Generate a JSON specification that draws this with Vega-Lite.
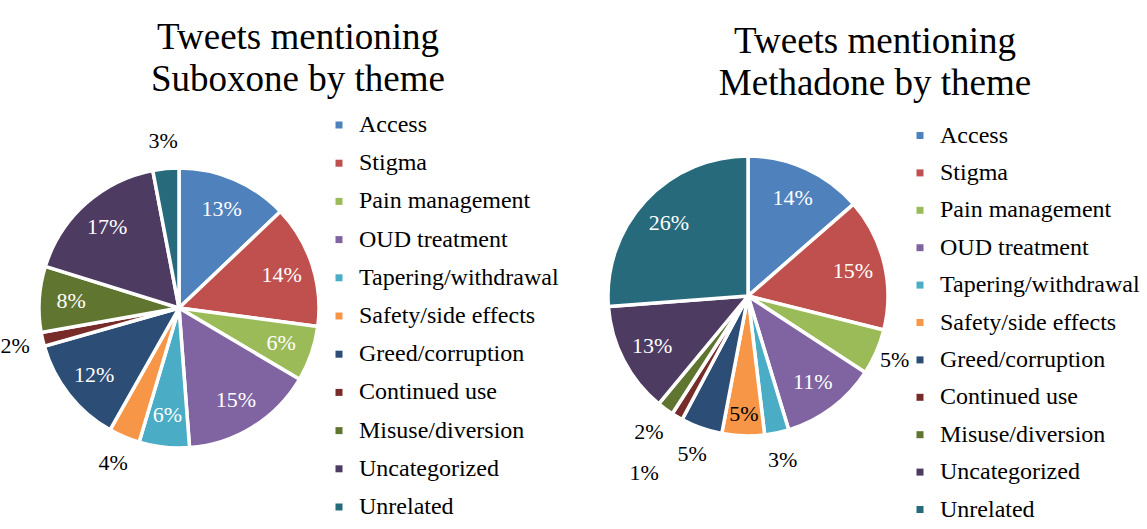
{
  "$schema": "https://vega.github.io/schema/vega-lite/v6.json",
  "background": "white",
  "padding": {"left": 0, "top": 19, "right": 0, "bottom": 0},
  "spacing": 289,
  "bounds": "flush",
  "resolve": {"scale": {"color": "independent"}, "legend": {"color": "independent"}},
  "config": {
    "font": "Liberation Serif",
    "view": {"stroke": null},
    "title": {"font": "Liberation Serif", "fontSize": 37, "fontWeight": "normal", "color": "#000000", "lineHeight": 42, "anchor": "middle", "frame": "group", "baseline": "bottom"},
    "legend": {"labelFont": "Liberation Serif", "labelFontSize": 24, "labelColor": "#000000", "symbolType": "square", "symbolSize": 49, "symbolStrokeWidth": 0, "labelOffset": 8, "labelLimit": 400, "padding": 0}
  },
  "datasets": {
    "suboxone": [
      {"idx": 1, "theme": "Access", "share": 0.129},
      {"idx": 2, "theme": "Stigma", "share": 0.142},
      {"idx": 3, "theme": "Pain management", "share": 0.064},
      {"idx": 4, "theme": "OUD treatment", "share": 0.153},
      {"idx": 5, "theme": "Tapering/withdrawal", "share": 0.058},
      {"idx": 6, "theme": "Safety/side effects", "share": 0.036},
      {"idx": 7, "theme": "Greed/corruption", "share": 0.124},
      {"idx": 8, "theme": "Continued use", "share": 0.016},
      {"idx": 9, "theme": "Misuse/diversion", "share": 0.076},
      {"idx": 10, "theme": "Uncategorized", "share": 0.172},
      {"idx": 11, "theme": "Unrelated", "share": 0.030}
    ],
    "methadone": [
      {"idx": 1, "theme": "Access", "share": 0.136},
      {"idx": 2, "theme": "Stigma", "share": 0.153},
      {"idx": 3, "theme": "Pain management", "share": 0.053},
      {"idx": 4, "theme": "OUD treatment", "share": 0.111},
      {"idx": 5, "theme": "Tapering/withdrawal", "share": 0.028},
      {"idx": 6, "theme": "Safety/side effects", "share": 0.049},
      {"idx": 7, "theme": "Greed/corruption", "share": 0.048},
      {"idx": 8, "theme": "Continued use", "share": 0.013},
      {"idx": 9, "theme": "Misuse/diversion", "share": 0.019},
      {"idx": 10, "theme": "Uncategorized", "share": 0.128},
      {"idx": 11, "theme": "Unrelated", "share": 0.262}
    ]
  },
  "hconcat": [
    {
      "width": 280,
      "height": 304,
      "data": {"name": "suboxone"},
      "title": {"text": ["Tweets mentioning", "Suboxone by theme"], "dx": 119, "offset": 14},
      "encoding": {
        "theta": {"field": "share", "type": "quantitative", "stack": true},
        "order": {"field": "idx", "type": "quantitative"}
      },
      "layer": [
        {
          "mark": {"type": "arc", "outerRadius": 140, "stroke": "white", "strokeWidth": 3.5},
          "encoding": {
            "color": {
              "field": "theme", "type": "nominal",
              "scale": {
                "domain": ["Access", "Stigma", "Pain management", "OUD treatment", "Tapering/withdrawal", "Safety/side effects", "Greed/corruption", "Continued use", "Misuse/diversion", "Uncategorized", "Unrelated"],
                "range": ["#4F81BD", "#C0504D", "#9BBB59", "#8064A2", "#4BACC6", "#F79646", "#2C4D75", "#772C2A", "#5F7530", "#4D3B62", "#276A7C"]
              },
              "legend": {"title": null, "orient": "none", "legendX": 288, "legendY": -43, "rowPadding": 14.2}
            }
          }
        },
        {
          "mark": {"type": "text", "font": "Liberation Serif", "fontSize": 22, "radius": {"expr": "datum.share < 0.05 ? 168 : 108"}},
          "encoding": {
            "text": {"field": "share", "type": "quantitative", "format": ".0%"},
            "color": {"condition": {"test": "datum.share < 0.05", "value": "#000000"}, "value": "#ffffff"}
          }
        }
      ]
    },
    {
      "width": 280,
      "height": 280,
      "data": {"name": "methadone"},
      "title": {"text": ["Tweets mentioning", "Methadone by theme"], "dx": 127, "offset": 20.5},
      "encoding": {
        "theta": {"field": "share", "type": "quantitative", "stack": true},
        "order": {"field": "idx", "type": "quantitative"}
      },
      "layer": [
        {
          "mark": {"type": "arc", "outerRadius": 140, "stroke": "white", "strokeWidth": 3.5},
          "encoding": {
            "color": {
              "field": "theme", "type": "nominal",
              "scale": {
                "domain": ["Access", "Stigma", "Pain management", "OUD treatment", "Tapering/withdrawal", "Safety/side effects", "Greed/corruption", "Continued use", "Misuse/diversion", "Uncategorized", "Unrelated"],
                "range": ["#4F81BD", "#C0504D", "#9BBB59", "#8064A2", "#4BACC6", "#F79646", "#2C4D75", "#772C2A", "#5F7530", "#4D3B62", "#276A7C"]
              },
              "legend": {"title": null, "orient": "none", "legendX": 300, "legendY": -32.5, "rowPadding": 13.4}
            }
          }
        },
        {
          "mark": {"type": "text", "font": "Liberation Serif", "fontSize": 22, "radius": {"expr": "datum.theme === 'Continued use' ? 205 : datum.theme === 'Safety/side effects' ? 118 : datum.theme === 'Pain management' ? 160 : datum.share < 0.06 ? 168 : 108"}},
          "encoding": {
            "text": {"field": "share", "type": "quantitative", "format": ".0%"},
            "color": {"condition": {"test": "datum.share < 0.06", "value": "#000000"}, "value": "#ffffff"}
          }
        }
      ]
    }
  ]
}
